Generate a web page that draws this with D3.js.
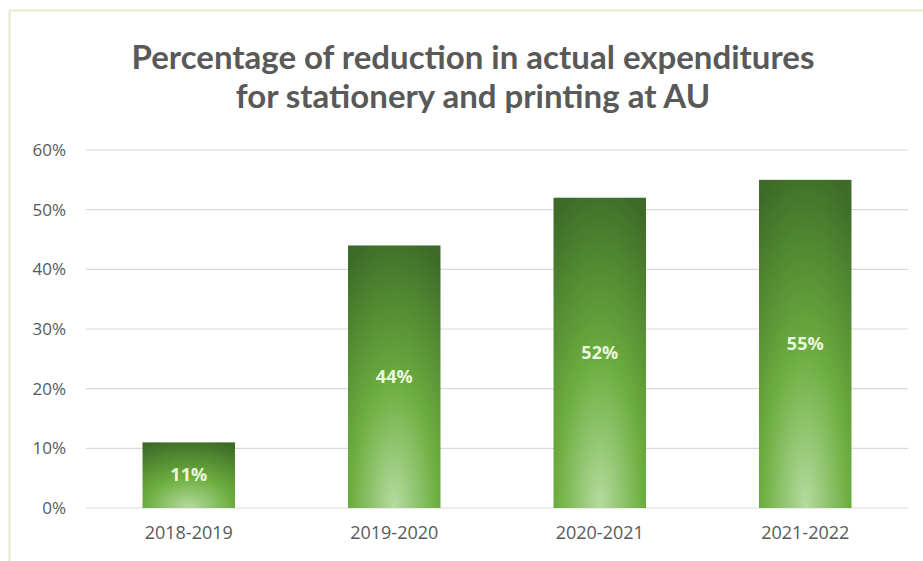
<!DOCTYPE html>
<html><head><meta charset="utf-8">
<script src="https://cdn.jsdelivr.net/npm/d3@7"></script>
<style>body{margin:0;background:#fff;}svg{display:block;}</style>
</head><body>
<svg id="chart" width="923" height="561"></svg>
<script>
const categories = ["2018-2019","2019-2020","2020-2021","2021-2022"];
const values = [0.11, 0.44, 0.52, 0.55];
const valueLabels = ["11%","44%","52%","55%"];
const yTicks = [0,0.1,0.2,0.3,0.4,0.5,0.6];
const titleLines = ["Percentage of reduction in actual expenditures","for stationery and printing at AU"];

const svg = d3.select("#chart");
const W = 923, H = 561;
const m = {left:86, right:15, top:150, bottom:53};

// border
svg.append("rect").attr("x",9.5).attr("y",10.5).attr("width",930).attr("height",560)
  .attr("fill","#fff").attr("stroke","#e3ead0").attr("stroke-width",2);

const defs = svg.append("defs");
const g = defs.append("radialGradient").attr("id","barGrad")
  .attr("cx","0.5").attr("cy","1").attr("r","1.05").attr("fx","0.5").attr("fy","1");
g.append("stop").attr("offset","0").attr("stop-color","#b6dba0");
g.append("stop").attr("offset","0.45").attr("stop-color","#6cae3f");
g.append("stop").attr("offset","1").attr("stop-color","#3e6c28");

const x = d3.scaleBand().domain(categories).range([m.left, W - m.right]).paddingInner(0.55).paddingOuter(0.275);
const y = d3.scaleLinear().domain([0,0.6]).range([508,150]);

// grid
svg.append("g").selectAll("line").data(yTicks).join("line")
  .attr("x1",m.left).attr("x2",W-m.right)
  .attr("y1",d=>y(d)).attr("y2",d=>y(d))
  .attr("stroke","#d9d9d9").attr("stroke-width",1.2);

// y axis labels
const yAxis = d3.axisLeft(y).tickValues(yTicks).tickFormat(d3.format(".0%")).tickSize(0).tickPadding(0);
const ya = svg.append("g").attr("transform","translate(66,0)").call(yAxis);
ya.select(".domain").remove();
ya.selectAll("text").attr("fill","#595959").attr("font-family","'Open Sans', sans-serif").attr("font-size",17);

// x axis labels
const xAxis = d3.axisBottom(x).tickSize(0).tickPadding(0);
const xa = svg.append("g").attr("transform","translate(0,526)").call(xAxis);
xa.select(".domain").remove();
xa.selectAll("text").attr("fill","#595959").attr("font-family","'Open Sans', sans-serif").attr("font-size",18);

// bars
svg.append("g").selectAll("rect").data(values).join("rect")
  .attr("x",(d,i)=>x(categories[i])).attr("width",x.bandwidth())
  .attr("y",d=>y(d)).attr("height",d=>y(0)-y(d))
  .attr("fill","url(#barGrad)");

// value labels
svg.append("g").selectAll("text").data(values).join("text")
  .attr("x",(d,i)=>x(categories[i])+x.bandwidth()/2)
  .attr("y",d=>(y(d)+y(0))/2)
  .attr("dy","0.35em").attr("text-anchor","middle")
  .attr("fill","#eaf6df").attr("font-family","'Open Sans', sans-serif")
  .attr("font-size",18).attr("font-weight","bold")
  .text((d,i)=>valueLabels[i]);

// title
svg.append("g").selectAll("text").data(titleLines).join("text")
  .attr("x",473).attr("y",(d,i)=>69+i*39)
  .attr("text-anchor","middle").attr("fill","#595959")
  .attr("font-family","Lato, sans-serif").attr("font-weight","bold").attr("font-size",33)
  .text(d=>d);
</script>
</body></html>
